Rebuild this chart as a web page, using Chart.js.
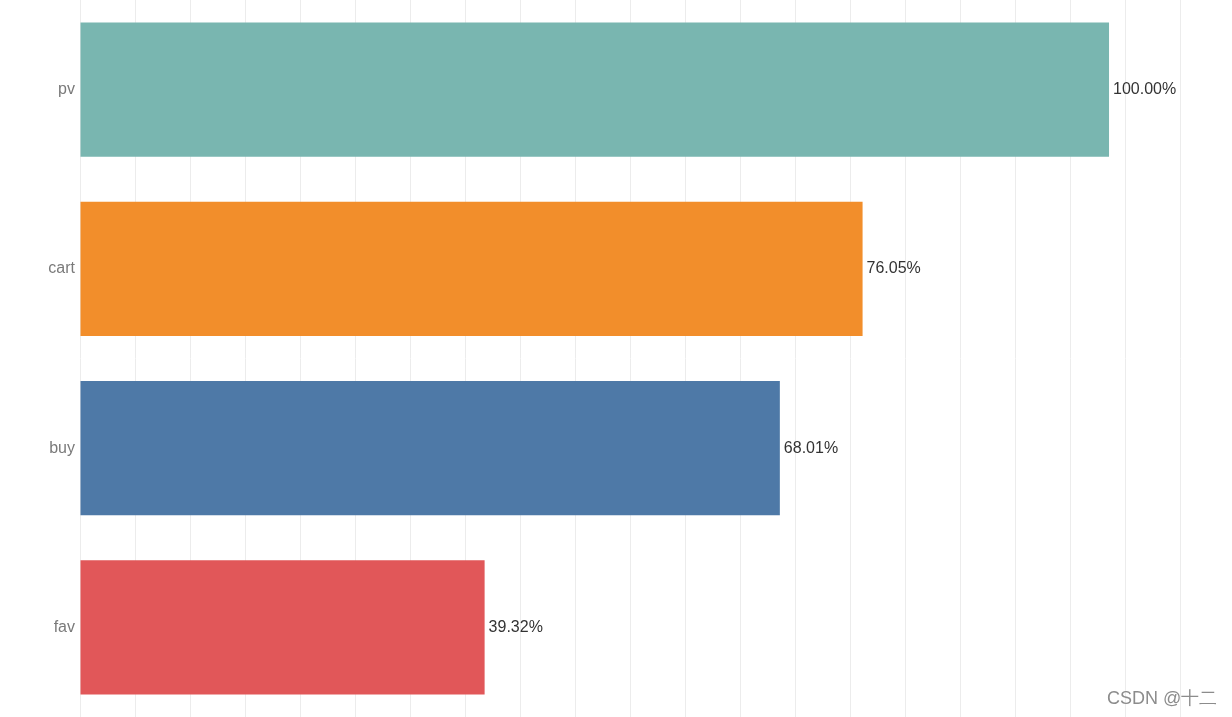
<!DOCTYPE html>
<html>
<head>
<meta charset="utf-8">
<script src="https://cdn.jsdelivr.net/npm/chart.js@4"></script>
<style>
  html, body { margin: 0; padding: 0; background: #fff; }
  #wrap { position: relative; width: 1232px; height: 717px; }
  #mark {
    position: absolute; left: 1107px; top: 686px;
    font: 18px "Liberation Sans", Arial, sans-serif; color: #8c8c8c;
    text-shadow: 0 0 1px #fff; white-space: nowrap;
  }
</style>
</head>
<body>
<div id="wrap">
  <canvas id="funnelBar" width="1232" height="717"></canvas>
  <div id="mark">CSDN @十二</div>
</div>
<script>
// behaviour stages and their share of pv (%)
var stages = ["pv", "cart", "buy", "fav"];
var rates = [100.00, 76.05, 68.01, 39.32];
var stageColors = ['#79b6b0', '#f28e2b', '#4e79a7', '#e15759'];

// gridline step used by the original view (in % units)
var gridStep = 5.345;
var gridCount = 20;

var valueLabels = {
  id: 'valueLabels',
  afterDatasetsDraw: function (chart) {
    var ctx = chart.ctx;
    var meta = chart.getDatasetMeta(0);
    ctx.save();
    ctx.font = '16px "Liberation Sans", Arial, sans-serif';
    ctx.fillStyle = '#333333';
    ctx.textAlign = 'left';
    ctx.textBaseline = 'middle';
    meta.data.forEach(function (bar, i) {
      ctx.fillText(rates[i].toFixed(2) + '%', bar.x + 4, bar.y);
    });
    ctx.restore();
  }
};

var funnelBar = document.getElementById("funnelBar");
var funnelBarConfig = {
  type: 'bar',
  data: {
    labels: stages,
    datasets: [{
      data: rates,
      backgroundColor: stageColors,
      categoryPercentage: 1,
      barPercentage: 0.75
    }]
  },
  options: {
    indexAxis: 'y',
    responsive: false,
    animation: false,
    layout: { padding: 0 },
    plugins: {
      legend: { display: false },
      tooltip: { enabled: false }
    },
    scales: {
      x: {
        min: 0,
        max: 111.95,
        afterBuildTicks: function (axis) {
          var t = [];
          for (var i = 0; i <= gridCount; i++) t.push({ value: i * gridStep });
          axis.ticks = t;
        },
        afterFit: function (axis) {
          axis.height = 0;
          axis.paddingLeft = 0; axis.paddingRight = 0;
        },
        ticks: { display: false },
        grid: { color: '#ececec', lineWidth: 1, drawTicks: false },
        border: { display: false }
      },
      y: {
        afterFit: function (axis) {
          axis.width = 80;
          axis.paddingTop = 0; axis.paddingBottom = 0;
        },
        ticks: {
          color: '#7a7a7a',
          padding: 5,
          font: { family: '"Liberation Sans", Arial, sans-serif', size: 16 }
        },
        grid: { display: false, drawTicks: false },
        border: { display: false }
      }
    }
  },
  plugins: [valueLabels]
};
var funnelBarObj = new Chart(funnelBar, funnelBarConfig);
</script>
</body>
</html>
